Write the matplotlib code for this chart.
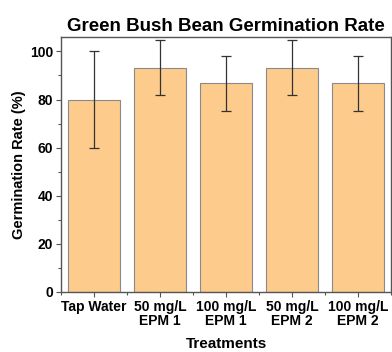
import matplotlib
matplotlib.use("Agg")
import matplotlib.pyplot as plt
from matplotlib.ticker import MultipleLocator, FixedLocator
import numpy as np

categories = ["Tap Water", "50 mg/L\nEPM 1", "100 mg/L\nEPM 1", "50 mg/L\nEPM 2", "100 mg/L\nEPM 2"]
rates = [80.0, 93.3, 86.7, 93.3, 86.7]
errors = [20.0, 11.5, 11.5, 11.5, 11.5]

plt.rcParams['font.family'] = ['Liberation Sans', 'DejaVu Sans']
fig = plt.figure(figsize=(3.92, 3.52), dpi=100)
ax = fig.add_axes([0.1556, 0.1705, 0.842, 0.7244])

x = np.arange(len(categories))
ax.bar(x, rates, width=0.8, color='#FDCB8C', edgecolor='#8a8a8a', linewidth=0.8,
       yerr=errors, error_kw=dict(ecolor='#333333', elinewidth=0.9, capsize=3.5, capthick=0.9))

ax.set_xlim(-0.5, 4.5)
ax.set_ylim(0, 106)
ax.set_xticks(x)
ax.set_xticklabels(categories, fontsize=10, fontweight='bold', linespacing=1.05)
ax.xaxis.set_minor_locator(FixedLocator(np.arange(-0.5, 5, 1.0)))
ax.yaxis.set_major_locator(MultipleLocator(20))
ax.yaxis.set_minor_locator(MultipleLocator(10))
for lab in ax.get_yticklabels():
    lab.set_fontweight('bold')
    lab.set_fontsize(10)
ax.tick_params(axis='both', which='major', length=3.5, width=0.8, color='#555555', pad=2)
ax.tick_params(axis='both', which='minor', length=2, width=0.8, color='#555555')
for s in ax.spines.values():
    s.set_color('#555555')
    s.set_linewidth(1.0)

ax.set_ylabel("Germination Rate (%)", fontsize=10.5, fontweight='bold', labelpad=3)
ax.set_xlabel("Treatments", fontsize=11, fontweight='bold', labelpad=6)
ax.set_title("Green Bush Bean Germination Rate", fontsize=13.5, fontweight='bold', pad=4)

fig.savefig("out.png", dpi=100)
